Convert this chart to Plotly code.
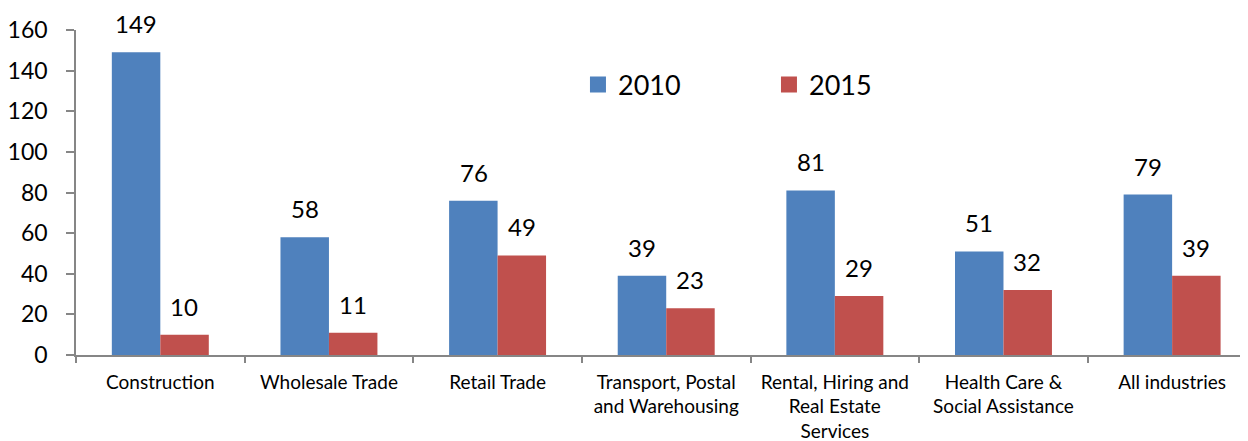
import plotly.graph_objects as go

categories = [
    "Construction",
    "Wholesale Trade",
    "Retail Trade",
    "Transport, Postal<br>and Warehousing",
    "Rental, Hiring and<br>Real Estate<br>Services",
    "Health Care &<br>Social Assistance",
    "All industries",
]
values_2010 = [149, 58, 76, 39, 81, 51, 79]
values_2015 = [10, 11, 49, 23, 29, 32, 39]
series_names = ["2010", "2015"]
colors = ["#4F81BD", "#C0504D"]
y_ticks = [0, 20, 40, 60, 80, 100, 120, 140, 160]

FONT = "Lato"
TXT = "#000000"
AX = "#868686"

fig = go.Figure()
for name, vals, col in zip(series_names, [values_2010, values_2015], colors):
    fig.add_trace(go.Bar(
        name=name, x=categories, y=vals, legendgroup=name, showlegend=False,
        marker=dict(color=col, line=dict(width=0)),
        hoverinfo="x+y+name",
    ))
# legend entries with larger square symbols
for name, col in zip(series_names, colors):
    fig.add_trace(go.Scatter(
        name=name, x=[None], y=[None], mode="markers", legendgroup=name,
        marker=dict(symbol="square", size=18, color=col), showlegend=True,
    ))

annotations = []
bar_half_px = 24
for vals, shift in [(values_2010, -bar_half_px), (values_2015, bar_half_px)]:
    for c, v in zip(categories, vals):
        annotations.append(dict(
            x=c, y=v, xref="x", yref="y", text=str(v), showarrow=False,
            yanchor="bottom", xanchor="center", xshift=shift, yshift=12,
            font=dict(family=FONT, size=24, color=TXT),
        ))

# page body has an 8px default margin, so the figure is sized to fit the window
fig.update_layout(
    width=1240, height=433,
    margin=dict(l=68, r=0, t=22, b=86, pad=0, autoexpand=False),
    paper_bgcolor="white", plot_bgcolor="white",
    barmode="group", bargap=0.425, bargroupgap=0,
    font=dict(family=FONT, color=TXT),
    showlegend=True,
    legend=dict(
        orientation="h", x=0.4283, xanchor="left", y=0.8308, yanchor="middle",
        font=dict(family=FONT, size=27, color=TXT),
        itemsizing="trace",
        entrywidth=146, bgcolor="rgba(0,0,0,0)", borderwidth=0,
    ),
    annotations=annotations,
    xaxis=dict(
        type="category", range=[-0.5, 6.45], automargin=False,
        showline=True, linecolor=AX, linewidth=1.5,
        ticks="outside", tickson="boundaries", ticklen=6, tickcolor=AX, tickwidth=1.5,
        tickfont=dict(family=FONT, size=19, color=TXT),
        ticklabelstandoff=9,
        showgrid=False, zeroline=False,
    ),
    yaxis=dict(
        range=[0, 160], tickvals=y_ticks, automargin=False,
        showline=True, linecolor=AX, linewidth=1.5,
        ticks="outside", ticklen=8, tickcolor=AX, tickwidth=1.5,
        tickfont=dict(family=FONT, size=23, color=TXT),
        ticklabelstandoff=14,
        showgrid=False, zeroline=False,
    ),
)

fig.write_html("out.html")
